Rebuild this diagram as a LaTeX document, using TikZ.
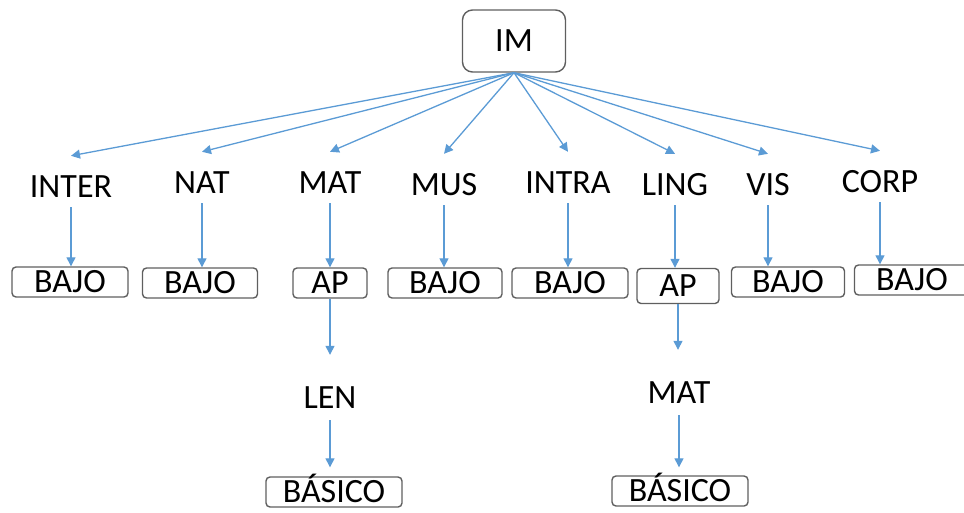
\documentclass[tikz,border=0pt]{standalone}
\usepackage{fontspec}
\setmainfont{Carlito}
\usetikzlibrary{arrows.meta}
\definecolor{linkblue}{RGB}{91,155,213}
\definecolor{framegray}{RGB}{95,95,95}
\tikzset{
  big/.style={font=\fontsize{34}{38}\selectfont},
  lvlbox/.style={big,draw=framegray,line width=1.4pt,rounded corners=4pt,
    inner xsep=0pt,inner ysep=3.5pt,text height=22pt,text depth=1pt,minimum height=30pt},
  lbl/.style={big,anchor=base,inner sep=2pt,text height=39pt,text depth=8pt},
  sublbl/.style={big,anchor=base,inner sep=2pt,text height=51pt,text depth=10pt},
  link/.style={draw=linkblue,line width=1.3pt,-{Triangle[length=9pt,width=9pt]}}
}
\begin{document}
\begin{tikzpicture}[x=1pt,y=-1pt]
      \clip (0,0) rectangle (964,512);
      \node[lvlbox,rounded corners=10pt,minimum width=103pt,minimum height=62pt] (im) at (514,41) {IM};
      % first level
      \node[lbl] (inter) at (71,197) {INTER};
      \node[lbl] (nat) at (202,193) {NAT};
      \node[lbl] (mat) at (330,193) {MAT};
      \node[lbl] (mus) at (444,195) {MUS};
      \node[lbl] (intra) at (568,193) {INTRA};
      \node[lbl] (ling) at (675,195) {LING};
      \node[lbl] (vis) at (768,195) {VIS};
      \node[lbl] (corp) at (880,192) {CORP};
      \draw[link] (im.south) -- (inter.north);
      \draw[link] (im.south) -- (nat.north);
      \draw[link] (im.south) -- (mat.north);
      \draw[link] (im.south) -- (mus.north);
      \draw[link] (im.south) -- (intra.north);
      \draw[link] (im.south) -- (ling.north);
      \draw[link] (im.south) -- (vis.north);
      \draw[link] (im.south) -- (corp.north);
      % second level
      \node[lvlbox,minimum width=116pt] (interlow) at (70,282) {BAJO};
      \node[lvlbox,minimum width=115pt] (natlow) at (200,283) {BAJO};
      \node[lvlbox,minimum width=74pt] (matap) at (330,283) {AP};
      \node[lvlbox,minimum width=114pt] (muslow) at (445,283) {BAJO};
      \node[lvlbox,minimum width=116pt] (intralow) at (570,283) {BAJO};
      \node[lvlbox,minimum width=82pt,minimum height=35pt] (lingap) at (678,286) {AP};
      \node[lvlbox,minimum width=113pt] (vislow) at (788,282) {BAJO};
      \node[lvlbox,minimum width=115pt] (corplow) at (912,280) {BAJO};
      \draw[link] (inter.south) -- (inter.south |- interlow.north);
      \draw[link] (nat.south) -- (nat.south |- natlow.north);
      \draw[link] (mat.south) -- (mat.south |- matap.north);
      \draw[link] (mus.south) -- (mus.south |- muslow.north);
      \draw[link] (intra.south) -- (intra.south |- intralow.north);
      \draw[link] (ling.south) -- (ling.south |- lingap.north);
      \draw[link] (vis.south) -- (vis.south |- vislow.north);
      \draw[link] (corp.south) -- (corp.south |- corplow.north);
      % third level
      \node[sublbl] (len) at (330,408) {LEN};
      \node[sublbl] (matsub) at (679,403) {MAT};
      \node[lvlbox,minimum width=136pt] (lenbasic) at (334,492) {BÁSICO};
      \node[lvlbox,minimum width=136pt] (matbasic) at (680,491) {BÁSICO};
      \draw[link] (matap.south) -- (matap.south |- len.north);
      \draw[link] (lingap.south) -- (lingap.south |- matsub.north);
      \draw[link,shorten >=9pt] (len.south) -- (len.south |- lenbasic.north);
      \draw[link,shorten >=8pt] (matsub.south) -- (matsub.south |- matbasic.north);
\end{tikzpicture}
\end{document}
